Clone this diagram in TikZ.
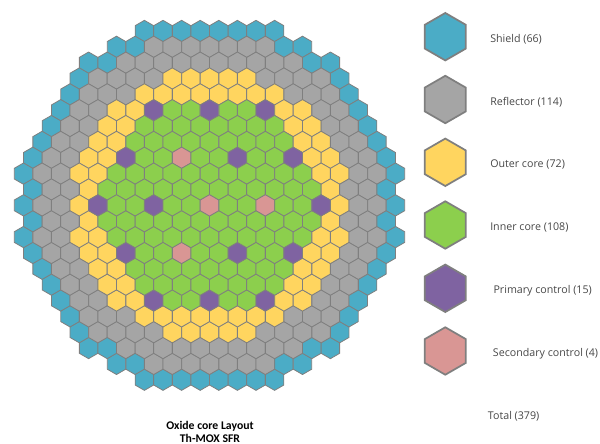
\documentclass[tikz,border=0pt]{standalone}
\usepackage{fontspec}
\setmainfont{Open Sans}
\newfontfamily\captionfont{Carlito}
\usetikzlibrary{shapes.geometric}
\definecolor{cellS}{HTML}{4BACC6}
\definecolor{cellR}{HTML}{A5A5A5}
\definecolor{cellO}{HTML}{FFD55F}
\definecolor{cellI}{HTML}{8CCF4D}
\definecolor{cellP}{HTML}{7F63A1}
\definecolor{cellC}{HTML}{D99694}
\definecolor{edgegray}{HTML}{7F7F7F}
\begin{document}
\begin{tikzpicture}[x=.75pt,y=-.75pt,
  hexcell/.style={regular polygon,regular polygon sides=6,regular polygon rotate=30,draw=edgegray,line width=.6pt,inner sep=0,outer sep=0,minimum size=16pt},
  hexkey/.style={hexcell,line width=1.3pt,minimum size=35.6pt},
  keylabel/.style={anchor=west,inner sep=0,font=\fontsize{8}{10}\selectfont,text=black!72}]
\useasboundingbox (0,0) rectangle (600,443);
\foreach \rowlist/\start/\cells in {
  {0,22}/-3.5/{S,S,S,S,S,S,S,S},
  {1,21}/-5/{S,S,R,R,R,R,R,R,R,S,S},
  {2,20}/-6.5/{S,S,R,R,R,R,R,R,R,R,R,R,S,S},
  {3,19}/-7/{S,R,R,R,R,O,O,O,O,O,R,R,R,R,S},
  {4,18}/-7.5/{S,R,R,R,O,O,O,O,O,O,O,O,R,R,R,S},
  {5,17}/-8/{S,R,R,O,O,P,I,I,P,I,I,P,O,O,R,R,S},
  {6,16}/-8.5/{S,R,R,O,O,I,I,I,I,I,I,I,I,O,O,R,R,S},
  {7,15}/-9/{S,R,R,O,O,I,I,I,I,I,I,I,I,I,O,O,R,R,S},
  {8,14}/-9.5/{S,R,R,O,O,P,I,I,C,I,I,P,I,I,P,O,O,R,R,S},
  {9,13}/-10/{S,R,R,O,O,I,I,I,I,I,I,I,I,I,I,I,O,O,R,R,S},
  {10,12}/-9.5/{S,R,R,O,I,I,I,I,I,I,I,I,I,I,I,I,O,R,R,S},
  {11}/-10/{S,R,R,O,P,I,I,P,I,I,C,I,I,C,I,I,P,O,R,R,S}}
  {\foreach \rownum in \rowlist
    {\foreach \c [count=\i] in \cells
      {\node[hexcell,fill=cell\c] (h\rownum-\i) at ({209.5+18.6*(\start+\i-1)},{31+15.85*\rownum}) {};}}}
\foreach \c/\y/\tx/\name in {S/36.7/490/Shield (66),R/99.5/490/Reflector (114),O/162.3/490/Outer core (72),I/225/490/Inner core (108),P/288.3/493.3/Primary control (15),C/351/492.7/Secondary control (4)}
  {\node[hexkey,fill=cell\c] (key\c) at (445.3,\y) {};
   \node[keylabel] (label\c) at (\tx,\y+2.3) {\name};}
\node[keylabel] (total) at (487.7,415.8) {Total (379)};
\node[inner sep=0,align=center,font=\captionfont\bfseries\fontsize{8.8}{9.7}\selectfont] (title) at (210,431.5) {Oxide core Layout\\Th-MOX SFR};
\end{tikzpicture}
\end{document}
